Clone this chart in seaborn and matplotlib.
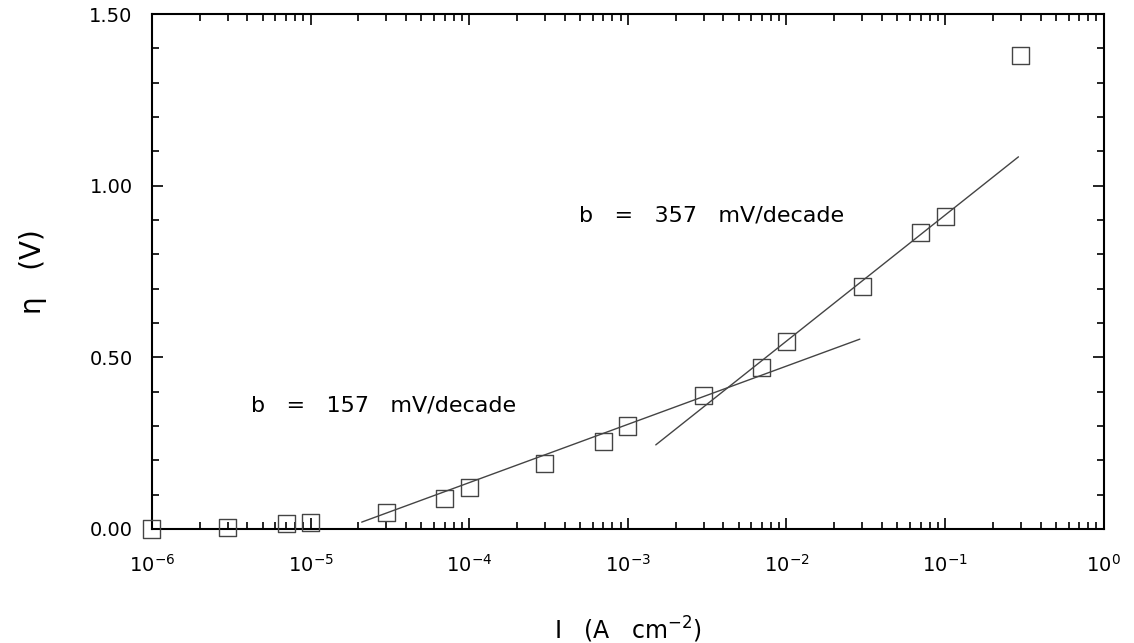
import seaborn as sns
import matplotlib.pyplot as plt
import matplotlib.ticker as mticker
import pandas as pd

# measured points: current density (A cm^-2) and overpotential (V)
current = [1e-6, 3e-6, 7e-6, 1e-5, 3e-5, 7e-5, 1e-4, 3e-4, 7e-4, 1e-3,
           3e-3, 7e-3, 1e-2, 3e-2, 7e-2, 1e-1, 3e-1]
eta = [0.00, 0.005, 0.015, 0.018, 0.047, 0.09, 0.12, 0.19, 0.256, 0.30,
       0.39, 0.47, 0.545, 0.705, 0.865, 0.91, 1.38]

# Tafel fit lines (end points)
fit1_x = [2.1e-5, 2.9e-2]
fit1_y = [0.02, 0.553]
fit2_x = [1.5e-3, 0.29]
fit2_y = [0.245, 1.084]

x_ticks = [1e-6, 1e-5, 1e-4, 1e-3, 1e-2, 1e-1, 1e0]
x_labels = ["$10^{-6}$", "$10^{-5}$", "$10^{-4}$", "$10^{-3}$",
            "$10^{-2}$", "$10^{-1}$", "$10^{0}$"]

sns.set_style("ticks")
plt.rcParams['font.family'] = ['DejaVu Sans']
plt.rcParams['mathtext.default'] = 'regular'
plt.rcParams['text.color'] = 'black'
plt.rcParams['axes.labelcolor'] = 'black'

df = pd.DataFrame({"I": current, "eta": eta})

fig = plt.figure(figsize=(11.34, 6.43), dpi=100)
ax = fig.add_axes([0.134, 0.1773, 0.8393, 0.8009])

sns.lineplot(x=fit1_x, y=fit1_y, color="#444444", linewidth=1.0, ax=ax)
sns.lineplot(x=fit2_x, y=fit2_y, color="#444444", linewidth=1.0, ax=ax)
sns.scatterplot(x="I", y="eta", data=df, marker="s", s=150,
                facecolor="none", edgecolor="#444444", linewidth=1.0,
                ax=ax, clip_on=False, zorder=3)

ax.set_xscale("log")
ax.set_xlim(1e-6, 1)
ax.set_ylim(0, 1.5)
ax.set_xticks(x_ticks)
ax.set_xticklabels(x_labels)
ax.set_yticks([0, 0.5, 1.0, 1.5])
ax.yaxis.set_major_formatter(mticker.FormatStrFormatter("%.2f"))
ax.yaxis.set_minor_locator(mticker.MultipleLocator(0.1))
ax.xaxis.set_minor_locator(mticker.LogLocator(base=10, subs=range(2, 10), numticks=20))
ax.xaxis.set_minor_formatter(mticker.NullFormatter())

ax.tick_params(which="both", direction="in", top=True, right=True,
               width=1.2, labelsize=14, colors="black")
ax.tick_params(which="major", length=8)
ax.tick_params(axis="y", which="major", pad=14)
ax.tick_params(axis="x", which="major", pad=18)
ax.tick_params(which="minor", length=5)
for sp in ax.spines.values():
    sp.set_linewidth(1.5)
    sp.set_color("black")

ax.set_xlabel("I   (A   cm$^{-2}$)", fontsize=17, labelpad=28)
ax.set_ylabel("η   (V)", fontsize=20, labelpad=30)

ax.text(4.9e-4, 0.912, "b   =   357   mV/decade", fontsize=16,
        va="center", ha="left")
ax.text(4.2e-6, 0.361, "b   =   157   mV/decade", fontsize=16,
        va="center", ha="left")

plt.savefig("out.png", dpi=100)
